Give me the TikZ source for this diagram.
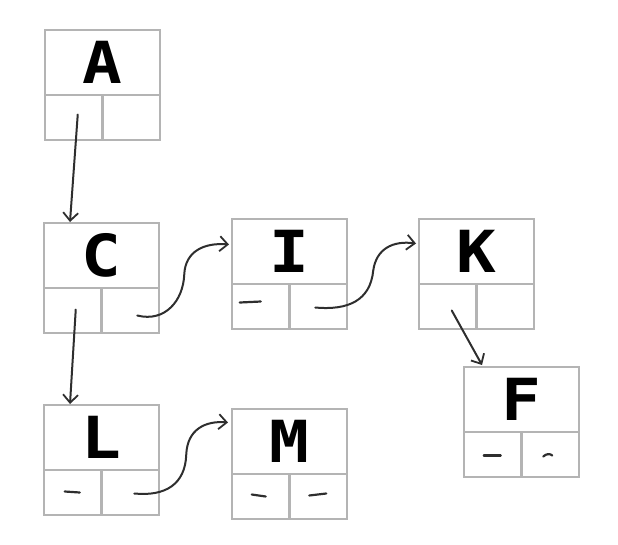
\documentclass[tikz,border=0pt]{standalone}
\usepackage{fontspec}
\newfontfamily\letterfont[FakeStretch=1.14]{DejaVu Sans Mono}
\usetikzlibrary{arrows.meta,calc}
\definecolor{boxgray}{HTML}{B4B4B4}
\definecolor{ink}{HTML}{2E2E2E}
\tikzset{
  cell/.style={draw=boxgray, line width=2.4pt, inner sep=0pt, outer sep=0pt, rectangle,
               font=\letterfont\bfseries\fontsize{58}{58}\selectfont},
  arr/.style={draw=ink, line width=2pt, line cap=round, -{Straight Barb[length=8pt,width=15pt,line width=1.8pt]}},
  dashstroke/.style={draw=ink, line width=2.2pt, line cap=round}
}
\newcommand\listbox[4]{%
  \node[cell, minimum width=115pt, minimum height=65pt, anchor=north west] (#1) at (#2,#3) {#4};
  \node[cell, minimum width=57.5pt, minimum height=45pt, anchor=north west] (#1l) at (#1.south west) {};
  \node[cell, minimum width=57.5pt, minimum height=45pt, anchor=north west] (#1r) at (#1l.north east) {};
}
\begin{document}
\begin{tikzpicture}[x=1pt,y=-1pt]
\useasboundingbox (0,0) rectangle (618,544);
\listbox{A}{45}{30}{A}
\listbox{C}{44}{223}{C}
\listbox{I}{232}{219}{I}
\listbox{K}{419}{219}{K}
\listbox{F}{464}{367}{F}
\listbox{L}{44}{405}{L}
\listbox{M}{232}{409}{M}
% dash marks in empty cells
\draw[dashstroke] ($(Il.center)+(-21,-4)$) -- ($(Il.center)+(0,-5)$);
\draw[dashstroke] ($(Ll.center)+(-8,-1)$) -- ($(Ll.center)+(7,0)$);
\draw[dashstroke] ($(Ml.center)+(-9,-2)$) -- ($(Ml.center)+(5,0)$);
\draw[dashstroke] ($(Mr.center)+(-9,-1)$) -- ($(Mr.center)+(8,-3)$);
\draw[dashstroke] ($(Fl.center)+(-9,1)$) -- ($(Fl.center)+(8,1)$);
\draw[dashstroke] ($(Fr.center)+(-7,2)$) .. controls ($(Fr.center)+(-4,-1)$) and ($(Fr.center)+(0,-1)$) .. ($(Fr.center)+(2,1)$);
% connectors
\draw[arr] ($(Al.center)+(4,-3)$) -- ($(C.north west)+(26,-1)$);
\draw[arr] ($(Cl.center)+(3,-1)$) -- ($(L.north west)+(26,-1)$);
\draw[arr] ($(Kl.center)+(4,4)$) -- ($(F.north west)+(18,-2)$);
\draw[arr] ($(Cr.center)+(7,5)$) .. controls ($(Cr.center)+(35,12)$) and ($(Cr.center)+(53,-10)$) .. ($(Cr.center)+(54,-36)$)
   .. controls ($(Cr.center)+(55,-60)$) and ($(Cr.center)+(75,-68)$) .. ($(I.west)+(-3,-7)$);
\draw[arr] ($(Ir.center)+(-3,1)$) .. controls ($(Ir.center)+(30,4)$) and ($(Ir.center)+(52,-6)$) .. ($(Ir.center)+(55,-36)$)
   .. controls ($(Ir.center)+(58,-58)$) and ($(Ir.center)+(75,-66)$) .. ($(K.west)+(-3,-8)$);
\draw[arr] ($(Lr.center)+(4,1)$) .. controls ($(Lr.center)+(35,4)$) and ($(Lr.center)+(55,-8)$) .. ($(Lr.center)+(56,-38)$)
   .. controls ($(Lr.center)+(57,-63)$) and ($(Lr.center)+(75,-72)$) .. ($(M.west)+(-4,-19)$);
\end{tikzpicture}
\end{document}
